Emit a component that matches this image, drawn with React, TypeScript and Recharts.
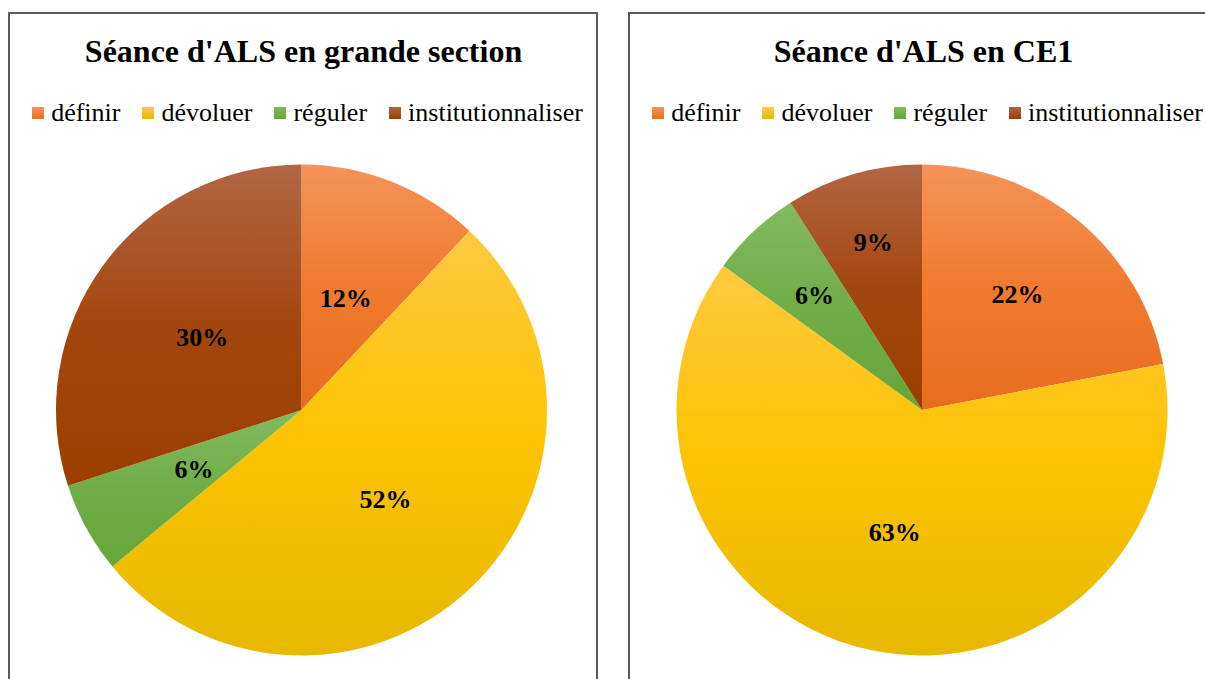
import { PieChart, Pie, Cell } from 'recharts';

const categories = ['définir', 'dévoluer', 'réguler', 'institutionnaliser'];
const grandeSectionValues = [12, 52, 6, 30];
const ce1Values = [22, 63, 6, 9];

// gradient stops per category (top -> bottom)
const gradients = [
  ['#F4935A', '#F07A2E', '#E86E1E'],
  ['#FFC940', '#FDC300', '#E6B800'],
  ['#82BB60', '#70AD47', '#66A63A'],
  ['#B26644', '#A4470E', '#9B3E00'],
];

const FONT = '"Liberation Serif", "Times New Roman", serif';
const RADIAN = Math.PI / 180;

function makeLabel(radii: number[]) {
  return (props: any) => {
    const { cx, cy, midAngle, outerRadius, percent, index } = props;
    const r = outerRadius * radii[index];
    const x = cx + r * Math.cos(-midAngle * RADIAN);
    const y = cy + r * Math.sin(-midAngle * RADIAN);
    return (
      <text
        x={x}
        y={y}
        textAnchor="middle"
        dominantBaseline="central"
        fontFamily={FONT}
        fontWeight="bold"
        fontSize={26}
        fill="#000"
      >
        {`${Math.round(percent * 100)}%`}
      </text>
    );
  };
}

function PiePanel({
  id,
  title,
  values,
  left,
  cx,
  labelRadii,
}: {
  id: string;
  title: string;
  values: number[];
  left: number;
  cx: number;
  labelRadii: number[];
}) {
  const data = categories.map((name, i) => ({ name, value: values[i] }));
  return (
    <>
      <div
        style={{
          position: 'absolute',
          left: left - 2,
          top: 12,
          width: 590,
          height: 720,
          border: '2px solid #5b5b5b',
          boxSizing: 'border-box',
        }}
      />
      <div style={{ position: 'absolute', left, top: 0 }}>
        <PieChart width={587} height={679} margin={{ top: 0, right: 0, bottom: 0, left: 0 }}>
          <defs>
            {gradients.map((g, i) => (
              <linearGradient key={i} id={`${id}-g${i}`} x1="0" y1="0" x2="0" y2="1">
                <stop offset="0%" stopColor={g[0]} />
                <stop offset="50%" stopColor={g[1]} />
                <stop offset="100%" stopColor={g[2]} />
              </linearGradient>
            ))}
          </defs>
          <Pie
            data={data}
            dataKey="value"
            nameKey="name"
            cx={cx}
            cy={410}
            outerRadius={245.5}
            startAngle={90}
            endAngle={-270}
            stroke="none"
            labelLine={false}
            label={makeLabel(labelRadii)}
            isAnimationActive={false}
          >
            {data.map((_, i) => (
              <Cell key={i} fill={`url(#${id}-g${i})`} />
            ))}
          </Pie>
        </PieChart>
      </div>
      <div
        style={{
          position: 'absolute',
          left,
          top: 35,
          width: 587,
          textAlign: 'center',
          fontFamily: FONT,
          fontWeight: 'bold',
          fontSize: 32,
          lineHeight: '32px',
          color: '#000',
          whiteSpace: 'nowrap',
        }}
      >
        {title}
      </div>
      <div
        style={{
          position: 'absolute',
          left: left + 4,
          top: 100,
          width: 587,
          display: 'flex',
          justifyContent: 'center',
          alignItems: 'center',
          gap: 22,
          fontFamily: FONT,
          fontSize: 26,
          lineHeight: '26px',
          color: '#000',
          whiteSpace: 'nowrap',
        }}
      >
        {categories.map((c, i) => (
          <div key={c} style={{ display: 'flex', alignItems: 'center' }}>
            <span
              style={{
                display: 'inline-block',
                width: 12,
                height: 12,
                marginRight: 7,
                background: `linear-gradient(${gradients[i][0]}, ${gradients[i][2]})`,
              }}
            />
            <span>{c}</span>
          </div>
        ))}
      </div>
    </>
  );
}

export default function App() {
  return (
    <div
      style={{
        position: 'fixed',
        left: 0,
        top: 0,
        width: 1205,
        height: 679,
        overflow: 'hidden',
        background: '#fff',
      }}
    >
      <PiePanel
        id="gs"
        title="Séance d'ALS en grande section"
        values={grandeSectionValues}
        left={10}
        cx={291.5}
        labelRadii={[0.49, 0.5, 0.5, 0.5]}
      />
      <PiePanel
        id="ce1"
        title="Séance d'ALS en CE1"
        values={ce1Values}
        left={630}
        cx={292}
        labelRadii={[0.61, 0.51, 0.64, 0.71]}
      />
    </div>
  );
}
